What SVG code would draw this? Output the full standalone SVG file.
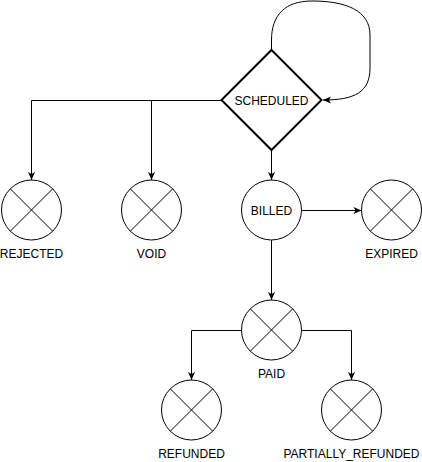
<svg xmlns="http://www.w3.org/2000/svg" width="422" height="462" viewBox="0 0 422 462">
<defs>
<marker id="arr" markerUnits="userSpaceOnUse" markerWidth="10" markerHeight="10" refX="8" refY="3.5" orient="auto" overflow="visible">
<path d="M0,0 L8,3.5 L0,7 L2,3.5 Z" fill="#000"/>
</marker>
<style>
.edge{fill:none;stroke:#000;stroke-width:1}
.st{fill:#fff;stroke:#000;stroke-width:1}
.x{stroke:#000;stroke-width:1}
text{font-family:"Liberation Sans",Arial,Helvetica,sans-serif;font-size:12px;fill:#000;text-anchor:middle}
</style>
</defs>
<rect width="422" height="462" fill="#fff"/>
<g id="connectors">
<path class="edge" d="M271.5,50 L271.5,40 C271.5,15 285,1 312,1 C345,1 370,10 370,35 L370,68 C370,92 355,100 323,100" marker-end="url(#arr)"/>
<path class="edge" d="M221.5,100.5 H31.5 V180" marker-end="url(#arr)"/>
<path class="edge" d="M151.5,100.5 V180" marker-end="url(#arr)"/>
<path class="edge" d="M271.5,150 V180" marker-end="url(#arr)"/>
<path class="edge" d="M301.5,210.5 H361.5" marker-end="url(#arr)"/>
<path class="edge" d="M271.5,240 V300" marker-end="url(#arr)"/>
<path class="edge" d="M241.5,330.5 H191.5 V380" marker-end="url(#arr)"/>
<path class="edge" d="M301.5,330.5 H351.5 V380" marker-end="url(#arr)"/>
</g>
<g id="SCHEDULED">
<path d="M271.5,50 L321.5,100 L271.5,150 L221.5,100 Z" fill="#fff" stroke="#000" stroke-width="2"/>
<text x="271.5" y="104.5">SCHEDULED</text>
</g>
<g id="REJECTED">
<circle class="st" cx="31.5" cy="210" r="30"/>
<path class="x" d="M10.3,188.8 L52.7,231.2 M52.7,188.8 L10.3,231.2"/>
<text x="31.5" y="258">REJECTED</text>
</g>
<g id="VOID">
<circle class="st" cx="151.5" cy="210" r="30"/>
<path class="x" d="M130.3,188.8 L172.7,231.2 M172.7,188.8 L130.3,231.2"/>
<text x="151.5" y="258">VOID</text>
</g>
<g id="BILLED">
<circle class="st" cx="271.5" cy="210" r="30"/>
<text x="271.5" y="214.5">BILLED</text>
</g>
<g id="EXPIRED">
<circle class="st" cx="391.5" cy="210" r="30"/>
<path class="x" d="M370.3,188.8 L412.7,231.2 M412.7,188.8 L370.3,231.2"/>
<text x="391.5" y="258">EXPIRED</text>
</g>
<g id="PAID">
<circle class="st" cx="271.5" cy="330" r="30"/>
<path class="x" d="M250.3,308.8 L292.7,351.2 M292.7,308.8 L250.3,351.2"/>
<text x="271.5" y="378">PAID</text>
</g>
<g id="REFUNDED">
<circle class="st" cx="191.5" cy="410" r="30"/>
<path class="x" d="M170.3,388.8 L212.7,431.2 M212.7,388.8 L170.3,431.2"/>
<text x="191.5" y="458">REFUNDED</text>
</g>
<g id="PARTIALLY_REFUNDED">
<circle class="st" cx="351.5" cy="410" r="30"/>
<path class="x" d="M330.3,388.8 L372.7,431.2 M372.7,388.8 L330.3,431.2"/>
<text x="351.5" y="458">PARTIALLY_REFUNDED</text>
</g>
</svg>
